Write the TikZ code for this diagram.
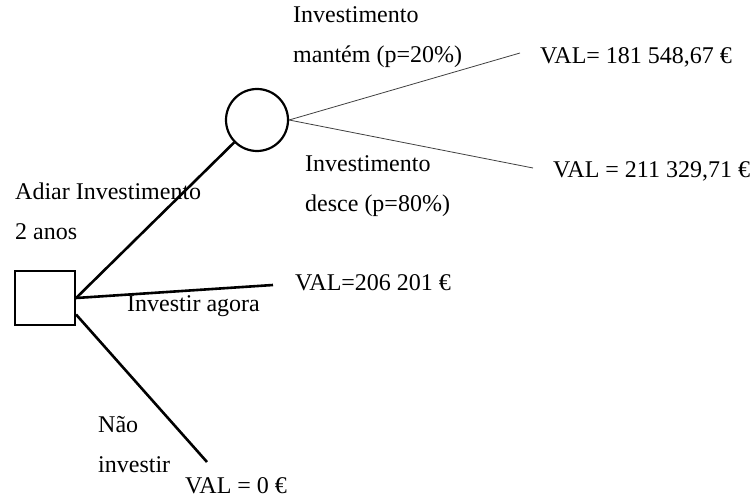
\documentclass[tikz,border=0pt]{standalone}
\usepackage{fontspec}
\setmainfont{Liberation Serif}
\usetikzlibrary{positioning, shapes.geometric}
\tikzset{
  decision/.style={
    rectangle,
    draw=black, line width=2.2pt,
    minimum width=60pt,
    minimum height=54pt,
    inner sep=0pt
  },
  chance/.style={
    circle,
    draw=black, line width=2.2pt,
    minimum size=62pt,
    inner sep=0pt
  },
  label/.style={
    anchor=base west,
    inner sep=0pt,
    align=left,
    font=\fontsize{24}{40}\selectfont
  },
  branch/.style={
    draw=black,
    line width=2.6pt
  },
  outcome/.style={
    draw=black!75,
    line width=0.8pt
  }
}

\begin{document}
\begin{tikzpicture}[x=1pt, y=-1pt]
\useasboundingbox (0,0) rectangle (753,497);
% nodes
\node[decision] (adiar) at (45,298) {};
\node[chance] (evento) at (257,120) {};

\coordinate (agoraEnd) at (273,285);
\coordinate (naoEnd) at (207,462);
\coordinate (mantemEnd) at (520,53);
\coordinate (desceEnd) at (533,168);

% two-line labels sit on the baseline of their last line
\node[label] (mantem) at (293,63) {Investimento\\mantém (p=20\%)};
\node[label] (valMantem) at (540,64) {VAL= 181 548,67 €};
\node[label] (desce) at (305,212) {Investimento\\desce (p=80\%)};
\node[label] (valDesce) at (553,178) {VAL = 211 329,71 €};
\node[label] (adiarTxt) at (15,240) {Adiar Investimento\\2 anos};
\node[label] (valAgora) at (295,291) {VAL=206 201 €};
\node[label] (agora) at (127,312) {Investir agora};
\node[label] (nao) at (98,472) {Não\\investir};
\node[label] (valNao) at (185,493) {VAL = 0 €};

% edges
\draw [branch] (adiar.east) -- (evento);
\draw [branch] (adiar.east) -- (agoraEnd);
\draw [branch] (adiar.-28) -- (naoEnd);
\draw [outcome] (evento.east) -- (mantemEnd);
\draw [outcome] (evento.east) -- (desceEnd);

\end{tikzpicture}
\end{document}
